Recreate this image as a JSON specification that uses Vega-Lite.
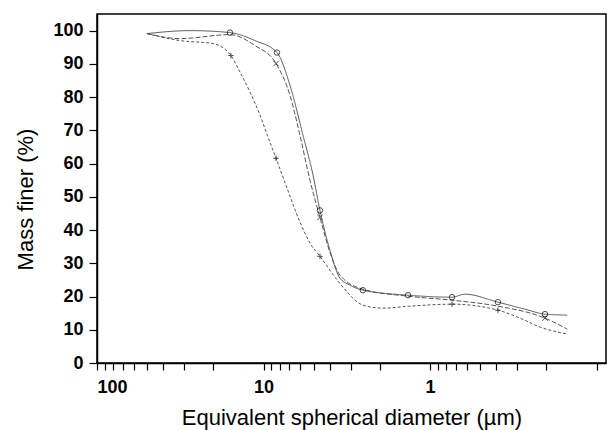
{
  "$schema": "https://vega.github.io/schema/vega-lite/v6.json",
  "width": 509,
  "height": 349,
  "autosize": {"type": "none"},
  "padding": {"left": 97, "top": 14, "right": 1, "bottom": 67},
  "background": "white",
  "config": {
    "view": {"stroke": "black", "strokeWidth": 1.5},
    "axis": {
      "grid": false,
      "domainColor": "black",
      "domainWidth": 1.5,
      "tickColor": "black",
      "tickWidth": 1.2,
      "labelColor": "black",
      "titleColor": "black",
      "labelFont": "Liberation Sans",
      "titleFont": "Liberation Sans",
      "labelFontSize": 18,
      "labelFontWeight": "bold",
      "titleFontSize": 22,
      "titleFontWeight": "normal"
    }
  },
  "data": {
    "values": [
      {"s": "A", "d": 50.1, "m": 99.1, "k": 0},
      {"s": "A", "d": 27.6, "m": 100.0, "k": 0},
      {"s": "A", "d": 15.9, "m": 99.4, "k": 1},
      {"s": "A", "d": 11.25, "m": 97.0, "k": 0},
      {"s": "A", "d": 8.3, "m": 93.4, "k": 1},
      {"s": "A", "d": 6.93, "m": 83.5, "k": 0},
      {"s": "A", "d": 5.79, "m": 68.5, "k": 0},
      {"s": "A", "d": 5.04, "m": 56.5, "k": 0},
      {"s": "A", "d": 4.58, "m": 45.9, "k": 1},
      {"s": "A", "d": 3.99, "m": 33.9, "k": 0},
      {"s": "A", "d": 3.47, "m": 25.5, "k": 0},
      {"s": "A", "d": 3.02, "m": 23.4, "k": 0},
      {"s": "A", "d": 2.53, "m": 21.9, "k": 1},
      {"s": "A", "d": 1.355, "m": 20.4, "k": 1},
      {"s": "A", "d": 0.738, "m": 19.8, "k": 1},
      {"s": "A", "d": 0.616, "m": 20.7, "k": 0},
      {"s": "A", "d": 0.391, "m": 18.3, "k": 1},
      {"s": "A", "d": 0.269, "m": 16.2, "k": 0},
      {"s": "A", "d": 0.204, "m": 14.7, "k": 1},
      {"s": "A", "d": 0.15, "m": 14.4, "k": 0},

      {"s": "C", "d": 50.1, "m": 99.1, "k": 0},
      {"s": "C", "d": 31.7, "m": 97.6, "k": 0},
      {"s": "C", "d": 15.9, "m": 98.8, "k": 0},
      {"s": "C", "d": 11.25, "m": 95.5, "k": 0},
      {"s": "C", "d": 8.41, "m": 90.1, "k": 1},
      {"s": "C", "d": 6.93, "m": 80.5, "k": 0},
      {"s": "C", "d": 6.04, "m": 68.5, "k": 0},
      {"s": "C", "d": 5.26, "m": 55.0, "k": 0},
      {"s": "C", "d": 4.58, "m": 43.8, "k": 1},
      {"s": "C", "d": 3.99, "m": 33.3, "k": 0},
      {"s": "C", "d": 3.47, "m": 26.4, "k": 0},
      {"s": "C", "d": 2.53, "m": 22.2, "k": 0},
      {"s": "C", "d": 1.355, "m": 20.1, "k": 0},
      {"s": "C", "d": 0.738, "m": 18.9, "k": 0},
      {"s": "C", "d": 0.391, "m": 17.1, "k": 0},
      {"s": "C", "d": 0.204, "m": 13.5, "k": 1},
      {"s": "C", "d": 0.15, "m": 10.2, "k": 0},

      {"s": "B", "d": 50.1, "m": 99.1, "k": 0},
      {"s": "B", "d": 31.7, "m": 97.0, "k": 0},
      {"s": "B", "d": 20.1, "m": 96.1, "k": 0},
      {"s": "B", "d": 15.7, "m": 92.5, "k": 1},
      {"s": "B", "d": 13.8, "m": 87.4, "k": 0},
      {"s": "B", "d": 12.05, "m": 81.5, "k": 0},
      {"s": "B", "d": 10.5, "m": 74.6, "k": 0},
      {"s": "B", "d": 9.4, "m": 68.0, "k": 0},
      {"s": "B", "d": 8.41, "m": 61.6, "k": 1},
      {"s": "B", "d": 7.33, "m": 53.5, "k": 0},
      {"s": "B", "d": 6.04, "m": 42.4, "k": 0},
      {"s": "B", "d": 5.26, "m": 36.1, "k": 0},
      {"s": "B", "d": 4.58, "m": 32.1, "k": 1},
      {"s": "B", "d": 3.33, "m": 22.8, "k": 0},
      {"s": "B", "d": 2.53, "m": 17.4, "k": 0},
      {"s": "B", "d": 1.92, "m": 16.5, "k": 0},
      {"s": "B", "d": 1.32, "m": 17.1, "k": 0},
      {"s": "B", "d": 0.738, "m": 17.7, "k": 1},
      {"s": "B", "d": 0.391, "m": 15.9, "k": 1},
      {"s": "B", "d": 0.288, "m": 13.5, "k": 0},
      {"s": "B", "d": 0.218, "m": 10.8, "k": 0},
      {"s": "B", "d": 0.15, "m": 8.7, "k": 0}
    ]
  },
  "encoding": {
    "x": {
      "field": "d",
      "type": "quantitative",
      "scale": {"type": "log", "domain": [0.0877, 100], "reverse": true, "nice": false},
      "axis": {
        "title": "Equivalent spherical diameter (µm)",
        "values": [100, 90, 80, 70, 60, 50, 40, 30, 20, 10, 9, 8, 7, 6, 5, 4, 3, 2, 1, 0.9, 0.8, 0.7, 0.6, 0.5, 0.4, 0.3, 0.2, 0.1],
        "labelExpr": "datum.value == 100 || datum.value == 10 || datum.value == 1 ? datum.value + '' : ''",
        "tickSize": 7,
        "labelPadding": 8,
        "titleBaseline": "alphabetic",
        "titleY": 61
      }
    },
    "y": {
      "field": "m",
      "type": "quantitative",
      "scale": {"domain": [0, 105], "nice": false},
      "axis": {
        "title": "Mass finer (%)",
        "values": [0, 10, 20, 30, 40, 50, 60, 70, 80, 90, 100],
        "tickSize": 8,
        "labelPadding": 6,
        "titleBaseline": "alphabetic",
        "titleX": -65,
        "titleY": 185
      }
    }
  },
  "layer": [
    {
      "mark": {"type": "line", "interpolate": "monotone", "strokeWidth": 0.9, "color": "#444"},
      "encoding": {
        "detail": {"field": "s", "type": "nominal"},
        "strokeDash": {
          "field": "s",
          "type": "nominal",
          "scale": {"domain": ["A", "B", "C"], "range": [[1, 0], [3, 2], [5, 2]]},
          "legend": null
        }
      }
    },
    {
      "transform": [{"filter": "datum.k == 1"}],
      "mark": {"type": "point", "filled": false, "stroke": "black", "strokeWidth": 1, "size": 30},
      "encoding": {
        "shape": {
          "field": "s",
          "type": "nominal",
          "scale": {"domain": ["A", "B", "C"], "range": ["circle", "M-1,0H1M0,-1V1", "M-1,-1L1,1M-1,1L1,-1"]},
          "legend": null
        }
      }
    }
  ]
}
